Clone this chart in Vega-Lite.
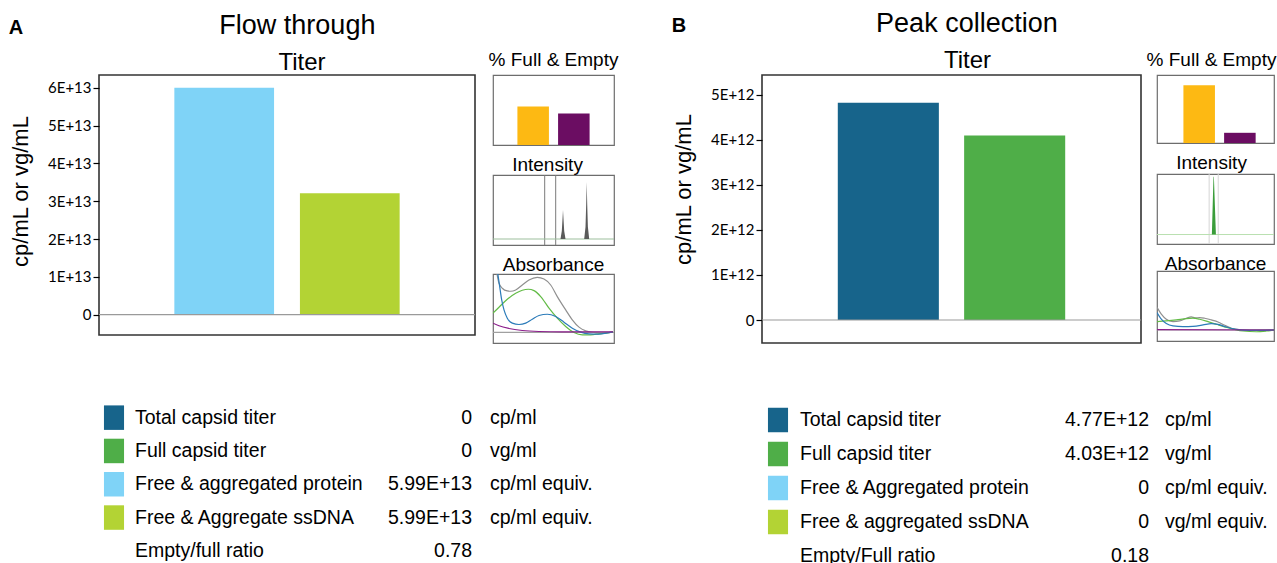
{
  "$schema": "https://vega.github.io/schema/vega-lite/v6.json",
  "background": "white",
  "padding": {"left": 8, "top": 10, "right": 0, "bottom": 0},
  "config": {
    "font": "Liberation Sans",
    "view": {"stroke": null},
    "title": {"fontWeight": "normal", "color": "#000000", "font": "Liberation Sans"},
    "axis": {"labelColor": "#000000", "titleColor": "#000000"}
  },
  "datasets": {
    "legA": [
      {"row": 1, "label": "Total capsid titer", "val": "0", "unit": "cp/ml"},
      {"row": 2, "label": "Full capsid titer", "val": "0", "unit": "vg/ml"},
      {"row": 3, "label": "Free & aggregated protein", "val": "5.99E+13", "unit": "cp/ml equiv."},
      {"row": 4, "label": "Free & Aggregate ssDNA", "val": "5.99E+13", "unit": "cp/ml equiv."},
      {"row": 5, "label": "Empty/full ratio", "val": "0.78", "unit": ""}
    ],
    "legB": [
      {"row": 1, "label": "Total capsid titer", "val": "4.77E+12", "unit": "cp/ml"},
      {"row": 2, "label": "Full capsid titer", "val": "4.03E+12", "unit": "vg/ml"},
      {"row": 3, "label": "Free & Aggregated protein", "val": "0", "unit": "cp/ml equiv."},
      {"row": 4, "label": "Free & aggregated ssDNA", "val": "0", "unit": "vg/ml equiv."},
      {"row": 5, "label": "Empty/Full ratio", "val": "0.18", "unit": ""}
    ],
    "absA": [
      {"s": "grey", "w": 220, "a": 1.4}, {"s": "grey", "w": 224, "a": 1.0}, {"s": "grey", "w": 226, "a": 0.841}, {"s": "grey", "w": 229.3, "a": 0.756}, {"s": "grey", "w": 234.3, "a": 0.71}, {"s": "grey", "w": 237.7, "a": 0.705}, {"s": "grey", "w": 242.7, "a": 0.727}, {"s": "grey", "w": 249.3, "a": 0.812}, {"s": "grey", "w": 256, "a": 0.898}, {"s": "grey", "w": 264.3, "a": 0.943}, {"s": "grey", "w": 271, "a": 0.915}, {"s": "grey", "w": 277.7, "a": 0.812}, {"s": "grey", "w": 284.3, "a": 0.614}, {"s": "grey", "w": 292.7, "a": 0.386}, {"s": "grey", "w": 299.3, "a": 0.216}, {"s": "grey", "w": 306, "a": 0.091}, {"s": "grey", "w": 312.7, "a": 0.028}, {"s": "grey", "w": 321, "a": 0.0}, {"s": "grey", "w": 327.7, "a": -0.011}, {"s": "grey", "w": 334.3, "a": -0.006}, {"s": "grey", "w": 340, "a": 0.011},
      {"s": "green", "w": 220, "a": 0.33}, {"s": "green", "w": 226, "a": 0.432}, {"s": "green", "w": 234.3, "a": 0.568}, {"s": "green", "w": 242.7, "a": 0.67}, {"s": "green", "w": 249.3, "a": 0.722}, {"s": "green", "w": 255.3, "a": 0.739}, {"s": "green", "w": 261, "a": 0.716}, {"s": "green", "w": 267.7, "a": 0.614}, {"s": "green", "w": 276, "a": 0.415}, {"s": "green", "w": 284.3, "a": 0.244}, {"s": "green", "w": 292.7, "a": 0.102}, {"s": "green", "w": 301, "a": 0.0}, {"s": "green", "w": 309.3, "a": -0.04}, {"s": "green", "w": 317.7, "a": -0.04}, {"s": "green", "w": 326, "a": -0.023}, {"s": "green", "w": 340, "a": 0.011},
      {"s": "blue", "w": 224, "a": 1.1}, {"s": "blue", "w": 226.7, "a": 0.784}, {"s": "blue", "w": 228.7, "a": 0.557}, {"s": "blue", "w": 231, "a": 0.386}, {"s": "blue", "w": 234.3, "a": 0.244}, {"s": "blue", "w": 239.3, "a": 0.159}, {"s": "blue", "w": 246, "a": 0.136}, {"s": "blue", "w": 252.7, "a": 0.159}, {"s": "blue", "w": 259.3, "a": 0.227}, {"s": "blue", "w": 266, "a": 0.29}, {"s": "blue", "w": 274.3, "a": 0.312}, {"s": "blue", "w": 282.7, "a": 0.273}, {"s": "blue", "w": 291, "a": 0.176}, {"s": "blue", "w": 299.3, "a": 0.074}, {"s": "blue", "w": 307.7, "a": 0.006}, {"s": "blue", "w": 316, "a": -0.023}, {"s": "blue", "w": 326, "a": -0.028}, {"s": "blue", "w": 334.3, "a": -0.006}, {"s": "blue", "w": 340, "a": 0.011},
      {"s": "purple", "w": 220, "a": 0.159}, {"s": "purple", "w": 226, "a": 0.114}, {"s": "purple", "w": 236, "a": 0.068}, {"s": "purple", "w": 249.3, "a": 0.034}, {"s": "purple", "w": 266, "a": 0.017}, {"s": "purple", "w": 289.3, "a": 0.011}, {"s": "purple", "w": 340, "a": 0.011}
    ],
    "absB": [
      {"s": "grey", "w": 220, "a": 0.383}, {"s": "grey", "w": 224.3, "a": 0.269}, {"s": "grey", "w": 229.3, "a": 0.183}, {"s": "grey", "w": 236, "a": 0.143}, {"s": "grey", "w": 242.7, "a": 0.154}, {"s": "grey", "w": 249.3, "a": 0.2}, {"s": "grey", "w": 254.3, "a": 0.223}, {"s": "grey", "w": 258, "a": 0.205}, {"s": "grey", "w": 262.7, "a": 0.211}, {"s": "grey", "w": 267.7, "a": 0.2}, {"s": "grey", "w": 274.3, "a": 0.171}, {"s": "grey", "w": 281, "a": 0.137}, {"s": "grey", "w": 287.7, "a": 0.08}, {"s": "grey", "w": 294.3, "a": 0.029}, {"s": "grey", "w": 302.7, "a": 0.006}, {"s": "grey", "w": 312.7, "a": 0.0}, {"s": "grey", "w": 337, "a": 0.006},
      {"s": "green", "w": 220, "a": 0.143}, {"s": "green", "w": 229.3, "a": 0.154}, {"s": "green", "w": 239.3, "a": 0.171}, {"s": "green", "w": 249.3, "a": 0.194}, {"s": "green", "w": 256, "a": 0.2}, {"s": "green", "w": 262.7, "a": 0.183}, {"s": "green", "w": 271, "a": 0.143}, {"s": "green", "w": 279.3, "a": 0.097}, {"s": "green", "w": 287.7, "a": 0.051}, {"s": "green", "w": 296, "a": 0.017}, {"s": "green", "w": 306, "a": -0.017}, {"s": "green", "w": 319.3, "a": -0.029}, {"s": "green", "w": 329.3, "a": -0.017}, {"s": "green", "w": 337, "a": 0.0},
      {"s": "blue", "w": 220, "a": 0.297}, {"s": "blue", "w": 224.3, "a": 0.183}, {"s": "blue", "w": 229.3, "a": 0.109}, {"s": "blue", "w": 236, "a": 0.069}, {"s": "blue", "w": 246, "a": 0.057}, {"s": "blue", "w": 256, "a": 0.063}, {"s": "blue", "w": 266, "a": 0.086}, {"s": "blue", "w": 274.3, "a": 0.109}, {"s": "blue", "w": 281, "a": 0.097}, {"s": "blue", "w": 289.3, "a": 0.051}, {"s": "blue", "w": 299.3, "a": 0.011}, {"s": "blue", "w": 312.7, "a": -0.006}, {"s": "blue", "w": 337, "a": 0.0},
      {"s": "purple", "w": 220, "a": 0.006}, {"s": "purple", "w": 337, "a": 0.0}
    ]
  },
  "spacing": 51,
  "resolve": {"scale": {"color": "independent"}},
  "hconcat": [
    {
      "title": {"text": "A", "anchor": "start", "fontSize": 20, "fontWeight": "bold", "offset": -26},
      "spacing": 57,
      "resolve": {"scale": {"color": "independent"}},
      "vconcat": [
        {
          "title": {"text": "Flow through", "fontSize": 27, "anchor": "middle", "offset": 10, "dx": -16.5},
          "spacing": 10,
          "resolve": {"scale": {"color": "independent"}},
          "hconcat": [
            {
              "width": 376,
              "height": 260,
              "title": {"text": "Titer", "fontSize": 24, "offset": 0, "frame": "group", "dx": 15},
              "view": {"stroke": "#333333", "strokeWidth": 1.6},
              "data": {"values": [
                {"series": "Free & aggregated protein", "titer": 6.0e13},
                {"series": "Free & Aggregate ssDNA", "titer": 3.21e13}
              ]},
              "layer": [
                {
                  "mark": {"type": "bar"},
                  "encoding": {
                    "x": {"field": "series", "type": "nominal", "sort": null, "axis": null, "scale": {"paddingInner": 0.206, "paddingOuter": 0.6}},
                    "y": {
                      "field": "titer", "type": "quantitative",
                      "scale": {"domain": [-5.4e12, 6.34e13], "nice": false, "zero": false},
                      "axis": {
                        "title": "cp/mL or vg/mL", "titleFontSize": 22, "titleFont": "Liberation Sans", "titleFontWeight": "normal", "titlePadding": 15, "titleY": 116,
                        "values": [0, 1e13, 2e13, 3e13, 4e13, 5e13, 6e13],
                        "labelExpr": "datum.value == 0 ? '0' : upper(format(datum.value, '.0e'))",
                        "labelFont": "Lato", "labelFontSize": 15, "labelPadding": 2,
                        "tickSize": 6, "tickColor": "#000000", "tickWidth": 1.2, "domain": false, "grid": false
                      }
                    },
                    "color": {"field": "series", "type": "nominal", "scale": {"domain": ["Free & aggregated protein", "Free & Aggregate ssDNA"], "range": ["#7fd3f7", "#b3d334"]}, "legend": null}
                  }
                },
                {
                  "data": {"values": [{"zero": 0}]},
                  "mark": {"type": "rule", "color": "#9a9a9a", "strokeWidth": 1.2},
                  "encoding": {"y": {"datum": 0}}
                }
              ]
            },
            {
              "spacing": 8,
              "resolve": {"scale": {"color": "independent"}},
              "vconcat": [
                {
                  "width": 121,
                  "height": 70,
                  "title": {"text": "% Full & Empty", "fontSize": 19, "offset": 5},
                  "view": {"stroke": "#6d6d6d", "strokeWidth": 1.2},
                  "data": {"values": [{"kind": "Full", "pct": 55}, {"kind": "Empty", "pct": 45}]},
                  "mark": "bar",
                  "encoding": {
                    "x": {"field": "kind", "type": "nominal", "sort": null, "axis": null, "scale": {"paddingInner": 0.225, "paddingOuter": 0.6}},
                    "y": {"field": "pct", "type": "quantitative", "scale": {"domain": [0, 100]}, "axis": null},
                    "color": {"field": "kind", "type": "nominal", "scale": {"domain": ["Full", "Empty"], "range": ["#fdb913", "#6b0d62"]}, "legend": null}
                  }
                },
                {
                  "width": 121,
                  "height": 70,
                  "title": {"text": "Intensity", "fontSize": 19, "offset": 0, "dx": -6},
                  "view": {"stroke": "#6d6d6d", "strokeWidth": 1.2},
                  "layer": [
                    {
                      "data": {"values": [{"t": 5.17}, {"t": 6.27}]},
                      "mark": {"type": "rule", "color": "#7a7a7a", "strokeWidth": 1},
                      "encoding": {"x": {"field": "t", "type": "quantitative", "scale": {"domain": [0, 12.1]}, "axis": null}}
                    },
                    {
                      "data": {"values": [{"v": 0}]},
                      "mark": {"type": "rule", "color": "#9dbf9d", "strokeWidth": 1},
                      "encoding": {"y": {"field": "v", "type": "quantitative", "scale": {"domain": [-6, 64]}, "axis": null}}
                    },
                    {
                      "data": {"values": [
                        {"t": 0, "v": 0}, {"t": 6.75, "v": 0}, {"t": 6.88, "v": 8}, {"t": 6.95, "v": 20}, {"t": 7.0, "v": 29}, {"t": 7.05, "v": 20}, {"t": 7.12, "v": 8}, {"t": 7.25, "v": 0},
                        {"t": 9.12, "v": 0}, {"t": 9.25, "v": 12}, {"t": 9.32, "v": 35}, {"t": 9.37, "v": 57}, {"t": 9.42, "v": 35}, {"t": 9.49, "v": 12}, {"t": 9.62, "v": 0}, {"t": 12.1, "v": 0}
                      ]},
                      "mark": {"type": "area", "color": "#5a5a5a"},
                      "encoding": {
                        "x": {"field": "t", "type": "quantitative", "scale": {"domain": [0, 12.1]}, "axis": null},
                        "y": {"field": "v", "type": "quantitative", "scale": {"domain": [-6, 64]}, "axis": null}
                      }
                    }
                  ]
                },
                {
                  "width": 121,
                  "height": 69,
                  "title": {"text": "Absorbance", "fontSize": 19, "offset": -1},
                  "view": {"stroke": "#6d6d6d", "strokeWidth": 1.2},
                  "layer": [
                    {
                      "data": {"values": [{"v": 0}]},
                      "mark": {"type": "rule", "color": "#a0a0a0", "strokeWidth": 1.2},
                      "encoding": {"y": {"field": "v", "type": "quantitative", "scale": {"domain": [-0.18, 1.0]}, "axis": null}}
                    },
                    {
                      "data": {"name": "absA"},
                      "mark": {"type": "line", "strokeWidth": 1.2, "interpolate": "monotone", "clip": true},
                      "encoding": {
                        "x": {"field": "w", "type": "quantitative", "scale": {"domain": [220, 341]}, "axis": null},
                        "y": {"field": "a", "type": "quantitative", "scale": {"domain": [-0.18, 1.0]}, "axis": null},
                        "color": {"field": "s", "type": "nominal", "scale": {"domain": ["grey", "green", "blue", "purple"], "range": ["#8f8f8f", "#62bb46", "#2b7bb9", "#8b1e8b"]}, "legend": null}
                      }
                    }
                  ]
                }
              ]
            }
          ]
        },
        {
          "spacing": 6,
          "resolve": {"scale": {"color": "independent"}},
          "hconcat": [
            {
              "width": 30,
              "height": 166.5,
              "data": {"name": "legA"},
              "transform": [{"filter": "datum.row <= 4"}],
              "mark": {"type": "point", "shape": "M-0.82,-1H0.82V1H-0.82Z", "size": 600, "filled": true, "opacity": 1, "strokeWidth": 0},
              "encoding": {
                "y": {"field": "row", "type": "ordinal", "scale": {"type": "point", "domain": [1, 2, 3, 4, 5], "padding": 0.5}, "axis": null},
                "color": {"field": "row", "type": "ordinal", "scale": {"domain": [1, 2, 3, 4], "range": ["#17648b", "#4fae48", "#7fd3f7", "#b3d334"]}, "legend": null}
              }
            },
            {
              "width": 230,
              "height": 166.5,
              "data": {"name": "legA"},
              "mark": {"type": "text", "align": "left", "baseline": "middle", "x": 0, "fontSize": 19.5, "color": "#000000"},
              "encoding": {
                "y": {"field": "row", "type": "ordinal", "scale": {"type": "point", "domain": [1, 2, 3, 4, 5], "padding": 0.5}, "axis": null},
                "text": {"field": "label"}
              }
            },
            {
              "width": 101,
              "height": 166.5,
              "data": {"name": "legA"},
              "mark": {"type": "text", "align": "right", "baseline": "middle", "x": "width", "fontSize": 19.5, "color": "#000000"},
              "encoding": {
                "y": {"field": "row", "type": "ordinal", "scale": {"type": "point", "domain": [1, 2, 3, 4, 5], "padding": 0.5}, "axis": null},
                "text": {"field": "val"}
              }
            },
            {
              "width": 120,
              "height": 166.5,
              "data": {"name": "legA"},
              "mark": {"type": "text", "align": "left", "baseline": "middle", "x": 0, "dx": 12, "fontSize": 19.5, "color": "#000000"},
              "encoding": {
                "y": {"field": "row", "type": "ordinal", "scale": {"type": "point", "domain": [1, 2, 3, 4, 5], "padding": 0.5}, "axis": null},
                "text": {"field": "unit"}
              }
            }
          ]
        }
      ]
    },
    {
      "title": {"text": "B", "anchor": "start", "fontSize": 20, "fontWeight": "bold", "offset": -26},
      "spacing": 59,
      "resolve": {"scale": {"color": "independent"}},
      "vconcat": [
        {
          "title": {"text": "Peak collection", "fontSize": 27, "anchor": "middle", "offset": 10, "dx": -7.5},
          "spacing": 2,
          "resolve": {"scale": {"color": "independent"}},
          "hconcat": [
            {
              "width": 379,
              "height": 268,
              "title": {"text": "Titer", "fontSize": 24, "offset": 2, "frame": "group", "dx": 16},
              "view": {"stroke": "#333333", "strokeWidth": 1.6},
              "data": {"values": [
                {"series": "Total capsid titer", "titer": 4.83e12},
                {"series": "Full capsid titer", "titer": 4.1e12}
              ]},
              "layer": [
                {
                  "mark": {"type": "bar"},
                  "encoding": {
                    "x": {"field": "series", "type": "nominal", "sort": null, "axis": null, "scale": {"paddingInner": 0.2, "paddingOuter": 0.6}},
                    "y": {
                      "field": "titer", "type": "quantitative",
                      "scale": {"domain": [-5.11e11, 5.444e12], "nice": false, "zero": false},
                      "axis": {
                        "title": "cp/mL or vg/mL", "titleFontSize": 22, "titleFont": "Liberation Sans", "titleFontWeight": "normal", "titlePadding": 15, "titleY": 114,
                        "values": [0, 1e12, 2e12, 3e12, 4e12, 5e12],
                        "labelExpr": "datum.value == 0 ? '0' : upper(format(datum.value, '.0e'))",
                        "labelFont": "Lato", "labelFontSize": 15, "labelPadding": 2,
                        "tickSize": 6, "tickColor": "#000000", "tickWidth": 1.2, "domain": false, "grid": false
                      }
                    },
                    "color": {"field": "series", "type": "nominal", "scale": {"domain": ["Total capsid titer", "Full capsid titer"], "range": ["#17648b", "#4fae48"]}, "legend": null}
                  }
                },
                {
                  "data": {"values": [{"zero": 0}]},
                  "mark": {"type": "rule", "color": "#9a9a9a", "strokeWidth": 1.2},
                  "encoding": {"y": {"datum": 0}}
                }
              ]
            },
            {
              "spacing": 8,
              "resolve": {"scale": {"color": "independent"}},
              "vconcat": [
                {
                  "width": 117,
                  "height": 68,
                  "title": {"text": "% Full & Empty", "fontSize": 19, "offset": 5, "dx": -4},
                  "view": {"stroke": "#6d6d6d", "strokeWidth": 1.2},
                  "data": {"values": [{"kind": "Full", "pct": 85}, {"kind": "Empty", "pct": 15}]},
                  "mark": "bar",
                  "encoding": {
                    "x": {"field": "kind", "type": "nominal", "sort": null, "axis": null, "scale": {"paddingInner": 0.225, "paddingOuter": 0.55, "align": 0.59}},
                    "y": {"field": "pct", "type": "quantitative", "scale": {"domain": [0, 100]}, "axis": null},
                    "color": {"field": "kind", "type": "nominal", "scale": {"domain": ["Full", "Empty"], "range": ["#fdb913", "#6b0d62"]}, "legend": null}
                  }
                },
                {
                  "width": 117,
                  "height": 70,
                  "title": {"text": "Intensity", "fontSize": 19, "offset": 1, "dx": -4},
                  "view": {"stroke": "#6d6d6d", "strokeWidth": 1.2},
                  "layer": [
                    {
                      "data": {"values": [{"t": 5.17}, {"t": 6.07}]},
                      "mark": {"type": "rule", "color": "#d6d6d6", "strokeWidth": 1},
                      "encoding": {"x": {"field": "t", "type": "quantitative", "scale": {"domain": [0, 11.6]}, "axis": null}}
                    },
                    {
                      "data": {"values": [{"v": 0}]},
                      "mark": {"type": "rule", "color": "#b9e0b0", "strokeWidth": 1},
                      "encoding": {"y": {"field": "v", "type": "quantitative", "scale": {"domain": [-9.3, 59.4]}, "axis": null}}
                    },
                    {
                      "data": {"values": [
                        {"t": 0, "v": 0}, {"t": 5.44, "v": 0}, {"t": 5.6, "v": 56.7}, {"t": 5.64, "v": 56.7}, {"t": 5.84, "v": 0}, {"t": 11.6, "v": 0}
                      ]},
                      "mark": {"type": "area", "color": "#3a9d3a"},
                      "encoding": {
                        "x": {"field": "t", "type": "quantitative", "scale": {"domain": [0, 11.6]}, "axis": null},
                        "y": {"field": "v", "type": "quantitative", "scale": {"domain": [-9.3, 59.4]}, "axis": null}
                      }
                    }
                  ]
                },
                {
                  "width": 117,
                  "height": 70,
                  "title": {"text": "Absorbance", "fontSize": 19, "offset": -3},
                  "view": {"stroke": "#6d6d6d", "strokeWidth": 1.2},
                  "layer": [
                    {
                      "data": {"values": [{"v": 0}]},
                      "mark": {"type": "rule", "color": "#a0a0a0", "strokeWidth": 1.2},
                      "encoding": {"y": {"field": "v", "type": "quantitative", "scale": {"domain": [-0.186, 1.0]}, "axis": null}}
                    },
                    {
                      "data": {"name": "absB"},
                      "mark": {"type": "line", "strokeWidth": 1.2, "interpolate": "monotone", "clip": true},
                      "encoding": {
                        "x": {"field": "w", "type": "quantitative", "scale": {"domain": [220, 337]}, "axis": null},
                        "y": {"field": "a", "type": "quantitative", "scale": {"domain": [-0.186, 1.0]}, "axis": null},
                        "color": {"field": "s", "type": "nominal", "scale": {"domain": ["grey", "green", "blue", "purple"], "range": ["#8f8f8f", "#62bb46", "#2b7bb9", "#8b1e8b"]}, "legend": null}
                      }
                    }
                  ]
                }
              ]
            }
          ]
        },
        {
          "spacing": 6,
          "resolve": {"scale": {"color": "independent"}},
          "hconcat": [
            {
              "width": 32,
              "height": 170,
              "data": {"name": "legB"},
              "transform": [{"filter": "datum.row <= 4"}],
              "mark": {"type": "point", "shape": "M-0.82,-1H0.82V1H-0.82Z", "size": 600, "filled": true, "opacity": 1, "strokeWidth": 0},
              "encoding": {
                "y": {"field": "row", "type": "ordinal", "scale": {"type": "point", "domain": [1, 2, 3, 4, 5], "padding": 0.5}, "axis": null},
                "color": {"field": "row", "type": "ordinal", "scale": {"domain": [1, 2, 3, 4], "range": ["#17648b", "#4fae48", "#7fd3f7", "#b3d334"]}, "legend": null}
              }
            },
            {
              "width": 230,
              "height": 170,
              "data": {"name": "legB"},
              "mark": {"type": "text", "align": "left", "baseline": "middle", "x": 0, "fontSize": 19.5, "color": "#000000"},
              "encoding": {
                "y": {"field": "row", "type": "ordinal", "scale": {"type": "point", "domain": [1, 2, 3, 4, 5], "padding": 0.5}, "axis": null},
                "text": {"field": "label"}
              }
            },
            {
              "width": 113,
              "height": 170,
              "data": {"name": "legB"},
              "mark": {"type": "text", "align": "right", "baseline": "middle", "x": "width", "fontSize": 19.5, "color": "#000000"},
              "encoding": {
                "y": {"field": "row", "type": "ordinal", "scale": {"type": "point", "domain": [1, 2, 3, 4, 5], "padding": 0.5}, "axis": null},
                "text": {"field": "val"}
              }
            },
            {
              "width": 115,
              "height": 170,
              "data": {"name": "legB"},
              "mark": {"type": "text", "align": "left", "baseline": "middle", "x": 0, "dx": 10, "fontSize": 19.5, "color": "#000000"},
              "encoding": {
                "y": {"field": "row", "type": "ordinal", "scale": {"type": "point", "domain": [1, 2, 3, 4, 5], "padding": 0.5}, "axis": null},
                "text": {"field": "unit"}
              }
            }
          ]
        }
      ]
    }
  ]
}
